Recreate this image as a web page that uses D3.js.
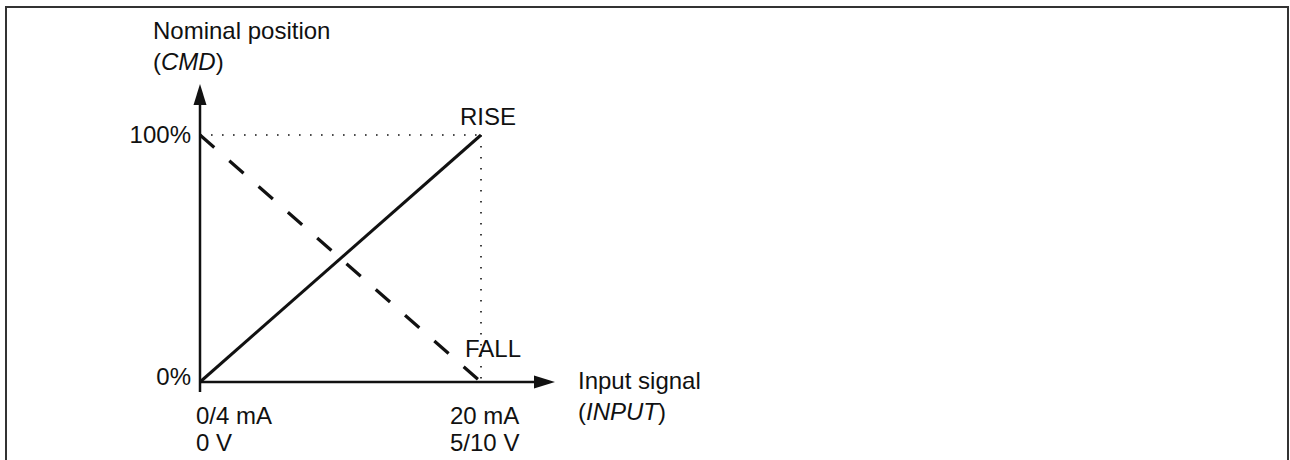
<!DOCTYPE html>
<html>
<head>
<meta charset="utf-8">
<script src="https://d3js.org/d3.v7.min.js"></script>
<style>
  body { margin: 0; background: #fff; }
  text { font-family: "Liberation Sans", Arial, Helvetica, sans-serif; fill: #111; }
</style>
</head>
<body>
<svg width="1290" height="460"></svg>
<script>
// data
var signal = [0, 1];                 // 0 = 0/4 mA (0 V), 1 = 20 mA (5/10 V)
var riseValues = [0, 100];
var fallValues = [100, 0];
var yTickValues = [0, 100];
var yTickLabels = ["0%", "100%"];
var xTickLabels = [["0/4 mA", "0 V"], ["20 mA", "5/10 V"]];
var yTitle = ["Nominal position", "(", "CMD", ")"];
var xTitle = ["Input signal", "(", "INPUT", ")"];

var svg = d3.select("svg");
var fs = 24;

var x = d3.scaleLinear().domain([0, 1]).range([200, 481]);
var y = d3.scaleLinear().domain([0, 100]).range([382, 135]);

// frame
svg.append("path")
  .attr("d", "M6,470V7H1288V470")
  .attr("fill", "none")
  .attr("stroke", "#333")
  .attr("stroke-width", 2);

// dotted guides
svg.append("line")
  .attr("x1", x(0)).attr("x2", x(1))
  .attr("y1", y(100)).attr("y2", y(100))
  .attr("stroke", "#111").attr("stroke-width", 1.6)
  .attr("stroke-dasharray", "1.6,9.4");
svg.append("line")
  .attr("x1", x(1)).attr("x2", x(1))
  .attr("y1", y(100)).attr("y2", y(0))
  .attr("stroke", "#111").attr("stroke-width", 1.6)
  .attr("stroke-dasharray", "1.6,9.4");

// axes
var ax = svg.append("g").attr("stroke", "#111").attr("stroke-width", 2.5);
ax.append("line").attr("x1", x(0)).attr("x2", x(0)).attr("y1", y(0) + 10).attr("y2", 100);
ax.append("line").attr("x1", x(0)).attr("x2", 540).attr("y1", y(0)).attr("y2", y(0));
svg.append("path")
  .attr("d", "M" + x(0) + ",84L" + (x(0) - 6.5) + ",105L" + (x(0) + 6.5) + ",105Z")
  .attr("fill", "#111");
svg.append("path")
  .attr("d", "M555," + y(0) + "L534," + (y(0) - 6.5) + "L534," + (y(0) + 6.5) + "Z")
  .attr("fill", "#111");

// series
var line = d3.line()
  .x(function(d, i) { return x(signal[i]); })
  .y(function(d) { return y(d); });

svg.append("path")
  .datum(fallValues)
  .attr("d", line)
  .attr("fill", "none")
  .attr("stroke", "#111")
  .attr("stroke-width", 3.2)
  .attr("stroke-dasharray", "19,20");

svg.append("path")
  .datum(riseValues)
  .attr("d", line)
  .attr("fill", "none")
  .attr("stroke", "#111")
  .attr("stroke-width", 3);

// y tick labels
svg.selectAll(".ytick")
  .data(yTickValues)
  .enter().append("text")
  .attr("class", "ytick")
  .attr("x", x(0) - 9)
  .attr("y", function(d) { return d === 0 ? y(d) + 3 : y(d) + 8; })
  .attr("text-anchor", "end")
  .attr("font-size", fs)
  .text(function(d, i) { return yTickLabels[i]; });

// x tick labels
var xt = svg.selectAll(".xtick")
  .data(signal)
  .enter().append("text")
  .attr("class", "xtick")
  .attr("font-size", fs);
xt.append("tspan")
  .attr("x", function(d) { return d === 0 ? x(d) - 4 : x(d) - 31; })
  .attr("y", y(0) + 42)
  .text(function(d, i) { return xTickLabels[i][0]; });
xt.append("tspan")
  .attr("x", function(d) { return d === 0 ? x(d) - 4 : x(d) - 31; })
  .attr("y", y(0) + 69)
  .text(function(d, i) { return xTickLabels[i][1]; });

// series labels
svg.append("text")
  .attr("x", x(1) - 21).attr("y", y(100) - 10)
  .attr("font-size", fs)
  .text("RISE");
svg.append("text")
  .attr("x", x(1) - 16).attr("y", y(0) - 25)
  .attr("font-size", fs)
  .text("FALL");

// axis titles
function title(tx, ty, parts) {
  var t = svg.append("text").attr("font-size", fs);
  t.append("tspan").attr("x", tx).attr("y", ty).text(parts[0]);
  t.append("tspan").attr("x", tx).attr("y", ty + 31).text(parts[1]);
  t.append("tspan").attr("font-style", "italic").text(parts[2]);
  t.append("tspan").text(parts[3]);
}
title(153, 39, yTitle);
title(578, 389, xTitle);
</script>
</body>
</html>
